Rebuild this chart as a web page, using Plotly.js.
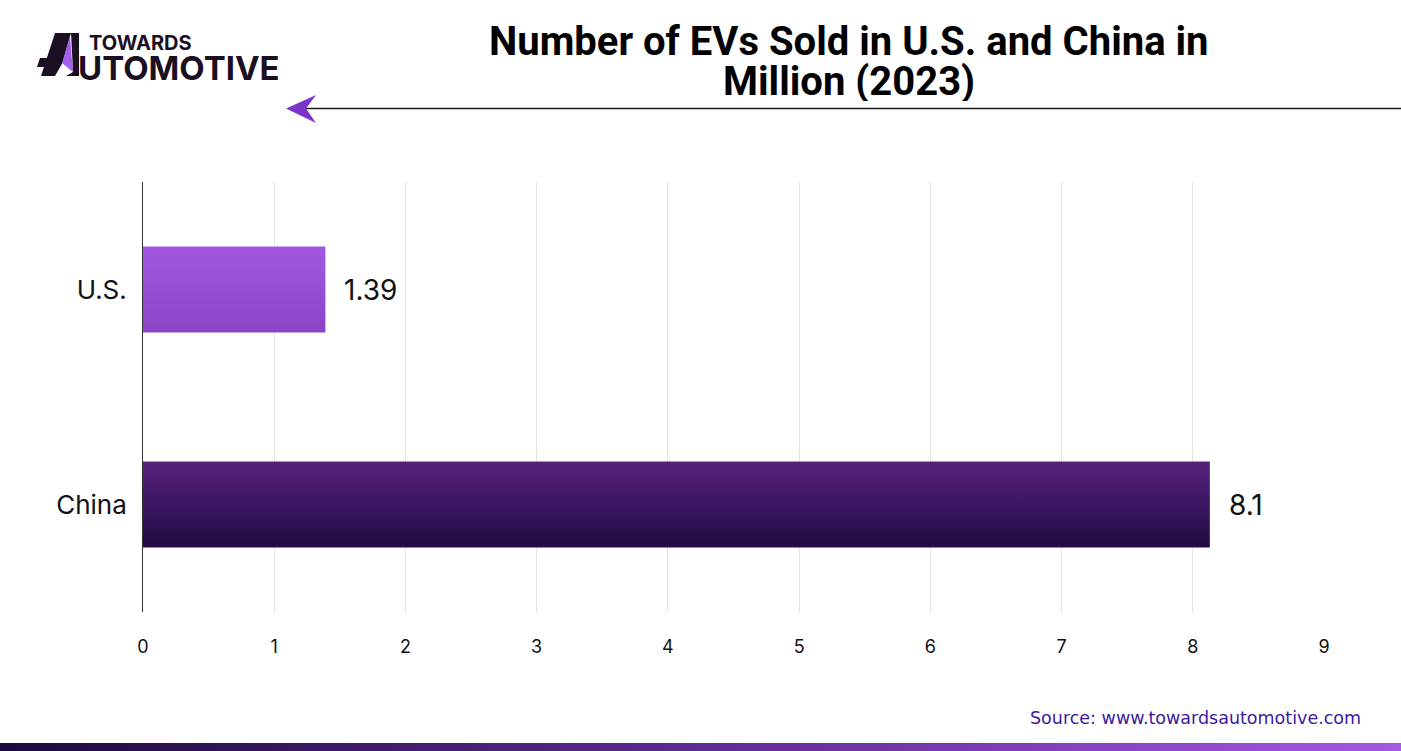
<!DOCTYPE html>
<html><head><meta charset="utf-8">
<script src="https://cdn.plot.ly/plotly-3.0.1.min.js"></script>
<style>html,body{margin:0;padding:0;background:#fff;}#chart{width:1401px;height:751px;}</style>
</head><body><div id="chart"></div>
<script>
// ---- data ----
var categories = ['U.S.', 'China'];
var values = [1.39, 8.13];
var valueLabels = ['1.39', '8.1'];
var xTicks = [0, 1, 2, 3, 4, 5, 6, 7, 8, 9];
var titleLines = ['Number of EVs Sold in U.S. and China in', 'Million (2023)'];
var barTop = ['#a257e2', '#56237f'];
var barBottom = ['#8c44c6', '#210943'];

// ---- layout geometry ----
var W = 1401, H = 751;
var M = {l: 143, r: 77, t: 182, b: 139};
var PW = W - M.l - M.r, PH = H - M.t - M.b;
function px(x) { return (x - M.l) / PW; }
function py(y) { return (H - M.b - y) / PH; }

var n = categories.length;
var half = 0.2;
var traces = [];
for (var i = 0; i < n; i++) {
  var yc = n - 1 - i;
  traces.push({
    type: 'scatter', mode: 'lines',
    x: [0, values[i], values[i], 0, 0],
    y: [yc - half, yc - half, yc + half, yc + half, yc - half],
    fill: 'toself',
    line: {width: 0, color: barBottom[i]},
    fillgradient: {type: 'vertical', colorscale: [[0, barBottom[i]], [1, barTop[i]]]},
    hoverinfo: 'skip', showlegend: false
  });
}

var annotations = [];
for (var j = 0; j < n; j++) {
  annotations.push({
    x: values[j], y: n - 1 - j, xref: 'x', yref: 'y',
    text: valueLabels[j], showarrow: false, xanchor: 'left', xshift: 17,
    font: {family: 'Inter, Roboto, sans-serif', size: 28, color: '#111'}
  });
}
// title lines
annotations.push({xref: 'paper', yref: 'paper', x: px(849), y: py(41), xanchor: 'center', yanchor: 'middle',
  text: '<b>' + titleLines[0] + '</b>', showarrow: false, height: 40, borderpad: 0,
  font: {family: 'Roboto, sans-serif', size: 40, color: '#000'}});
annotations.push({xref: 'paper', yref: 'paper', x: px(849), y: py(81), xanchor: 'center', yanchor: 'middle',
  text: '<b>' + titleLines[1] + '</b>', showarrow: false, height: 40, borderpad: 0,
  font: {family: 'Roboto, sans-serif', size: 40, color: '#000'}});
// logo text
annotations.push({xref: 'paper', yref: 'paper', x: px(88), y: py(43), xanchor: 'left', yanchor: 'middle',
  text: '<b>TOWARDS</b>', showarrow: false, borderpad: 0, height: 18,
  font: {family: 'Inter, sans-serif', size: 20, color: '#1b1022', weight: 900}});
annotations.push({xref: 'paper', yref: 'paper', x: px(77), y: py(68), xanchor: 'left', yanchor: 'middle',
  text: '<b>UTOMOTIVE</b>', showarrow: false, borderpad: 0, height: 28,
  font: {family: 'Inter, sans-serif', size: 33, color: '#1b1022', weight: 900}});
// source
annotations.push({xref: 'paper', yref: 'paper', x: px(1363), y: py(718), xanchor: 'right', yanchor: 'middle',
  text: 'Source: www.towardsautomotive.com', showarrow: false,
  font: {family: '"DejaVu Sans", sans-serif', size: 17.5, color: '#3b1aa0'}});

function P(pts) {
  return 'M ' + pts.map(function (p) { return px(p[0]) + ',' + py(p[1]); }).join(' L ') + ' Z';
}
var shapes = [
  // logo A
  {type: 'path', xref: 'paper', yref: 'paper', path: P([[55, 33], [71, 33], [63, 62], [55, 76], [41, 76]]), fillcolor: '#1b1022', line: {width: 0}},
  {type: 'path', xref: 'paper', yref: 'paper', path: P([[40, 58], [62, 58], [60, 67], [37, 67]]), fillcolor: '#1b1022', line: {width: 0}},
  {type: 'path', xref: 'paper', yref: 'paper', path: P([[70, 36], [73, 72], [62, 63]]), fillcolor: '#a45ff0', line: {width: 0}},
  {type: 'path', xref: 'paper', yref: 'paper', path: P([[71, 33], [79, 33], [79, 76], [66, 76], [73, 72]]), fillcolor: '#1b1022', line: {width: 0}},
  // arrow
  {type: 'line', xref: 'paper', yref: 'paper', x0: px(304), x1: px(1401), y0: py(108.5), y1: py(108.5), line: {color: '#1a1a1a', width: 1.5}},
  {type: 'path', xref: 'paper', yref: 'paper', path: P([[286, 108.5], [316, 95], [306, 108.5], [316, 123]]), fillcolor: '#7a36c8', line: {width: 0}}
];

// bottom gradient strip via svg image
var svg = '<svg xmlns="http://www.w3.org/2000/svg" width="1401" height="8" preserveAspectRatio="none"><defs><linearGradient id="g" x1="0" x2="1" y1="0" y2="0"><stop offset="0" stop-color="#1d0a3c"/><stop offset="0.5" stop-color="#5e2a94"/><stop offset="1" stop-color="#a657e4"/></linearGradient></defs><rect width="1401" height="8" fill="url(#g)"/></svg>';
var images = [{
  source: 'data:image/svg+xml;charset=utf-8,' + encodeURIComponent(svg),
  xref: 'paper', yref: 'paper', x: px(0), y: py(743), sizex: px(1401) - px(0), sizey: py(743) - py(751),
  xanchor: 'left', yanchor: 'top', sizing: 'stretch', layer: 'above'
}];

var layout = {
  width: W, height: H,
  margin: M,
  paper_bgcolor: '#fff', plot_bgcolor: '#fff',
  showlegend: false,
  xaxis: {
    range: [0, 9], tickvals: xTicks, showgrid: true, gridcolor: '#e4e4e4', gridwidth: 1,
    zeroline: false, showline: false, ticks: '', fixedrange: true,
    tickfont: {family: 'Inter, Roboto, sans-serif', size: 18, color: '#111'},
    ticklabelstandoff: 22
  },
  yaxis: {
    range: [-0.5, n - 0.5], tickvals: categories.map(function (c, k) { return n - 1 - k; }),
    ticktext: categories, showgrid: false, zeroline: false,
    showline: true, linecolor: '#333', linewidth: 1, ticks: '', fixedrange: true,
    tickfont: {family: 'Inter, Roboto, sans-serif', size: 26, color: '#111'},
    ticklabelstandoff: 10
  },
  annotations: annotations,
  shapes: shapes,
  images: images
};

Plotly.newPlot('chart', traces, layout, {displayModeBar: false, staticPlot: true});
</script>
</body></html>
